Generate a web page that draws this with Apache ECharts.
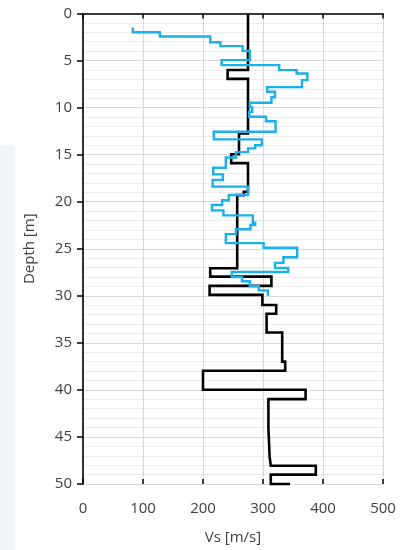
<!DOCTYPE html>
<html>
<head>
<meta charset="utf-8">
<script src="https://cdn.jsdelivr.net/npm/echarts@6/dist/echarts.min.js"></script>
<style>
html,body{margin:0;padding:0;background:#fff;}
#chart{width:409px;height:550px;}
</style>
</head>
<body>
<div id="chart"></div>
<script>
// Measured Vs profile (blue): layer boundaries (depth, m) and Vs per layer (m/s)
const measuredDepthBreaks = [1.5, 2.0, 2.45, 3.05, 3.47, 3.97, 4.96, 5.49, 6.02, 6.37,
  7.08, 7.82, 8.32, 8.9, 9.49, 9.98, 10.44, 10.97, 11.45, 12.57,
  13.38, 14.0, 14.33, 14.73, 15.3, 16.4, 17.1, 17.7, 18.4, 19.29,
  19.85, 20.35, 20.92, 21.45, 22.23, 22.47, 22.93, 23.45, 24.4, 24.9,
  25.9, 26.5, 27.05, 27.47, 28.0, 28.45, 28.97, 29.42, 30.0];
const measuredVs = [83, 128, 212, 229, 266, 278, 231, 327, 356, 374,
  365, 307, 320, 314, 278, 282, 277, 305, 321, 218,
  298, 287, 275, 255, 238, 217, 233, 216, 275, 243,
  232, 215, 234, 283, 287, 279, 255, 238, 301, 357,
  334, 320, 342, 248, 265, 278, 293, 308];

// Model Vs profile (black)
const profileDepthBreaks = [0, 6.0, 6.95, 12.75, 14.95, 15.9, 18.95, 19.3, 27.07, 27.96,
  28.95, 29.9, 30.97, 31.9, 33.9, 37.0, 37.97, 39.99, 40.98, 44.05,
  47.07, 48.06, 49.0, 50.0];
const profileVs = [275, 241, 275, 260, 247, 275, 268, 257, 212, 314,
  211, 299, 322, 306, 332, 337, 200, 371, 309, 311,
  313, 388, 313];
const profileEndVs = 345;

const xTicks = [0, 100, 200, 300, 400, 500];
const yTicks = [0, 5, 10, 15, 20, 25, 30, 35, 40, 45, 50];

function stepPoints(breaks, vs) {
  const pts = [];
  for (let i = 0; i < vs.length; i++) {
    pts.push([vs[i], breaks[i]]);
    pts.push([vs[i], breaks[i + 1]]);
  }
  return pts;
}

const measuredPts = stepPoints(measuredDepthBreaks, measuredVs);
const profilePts = stepPoints(profileDepthBreaks, profileVs);
profilePts.push([profileEndVs, profileDepthBreaks[profileDepthBreaks.length - 1]]);

const FONT = "'Open Sans', 'Noto Sans', sans-serif";
const chart = echarts.init(document.getElementById('chart'), null, {renderer: 'canvas'});
chart.setOption({
  animation: false,
  backgroundColor: '#ffffff',
  graphic: [{
    type: 'rect', left: 0, top: 145, z: -10,
    shape: {width: 15, height: 405},
    style: {fill: '#f2f5fa'}
  }],
  grid: {left: 83, right: 26, top: 13.5, bottom: 66, containLabel: false},
  xAxis: [{
    type: 'value', min: xTicks[0], max: xTicks[xTicks.length - 1], interval: 100,
    position: 'bottom',
    name: 'Vs [m/s]', nameLocation: 'middle', nameGap: 46,
    nameTextStyle: {fontFamily: FONT, fontSize: 15, color: '#404040'},
    axisLine: {show: true, lineStyle: {color: '#000', width: 1.6}},
    axisTick: {show: true, inside: false, length: 5, lineStyle: {color: '#000', width: 1.5}},
    axisLabel: {fontFamily: FONT, fontSize: 15, color: '#404040', margin: 17},
    splitLine: {show: true, lineStyle: {color: '#d9d9d9', width: 1}}
  }, {
    type: 'value', min: xTicks[0], max: xTicks[xTicks.length - 1], interval: 100,
    position: 'bottom',
    axisLine: {show: false},
    axisTick: {show: true, inside: true, length: 5, lineStyle: {color: '#000', width: 1.5}},
    axisLabel: {show: false},
    splitLine: {show: false}
  }],
  yAxis: {
    type: 'value', inverse: true, min: yTicks[0], max: yTicks[yTicks.length - 1], interval: 5,
    name: 'Depth [m]', nameLocation: 'middle', nameGap: 46, nameRotate: 90,
    nameTextStyle: {fontFamily: FONT, fontSize: 15, color: '#404040'},
    axisLine: {show: true, onZero: false, lineStyle: {color: '#000', width: 1.6}},
    axisTick: {show: true, inside: false, length: 6, lineStyle: {color: '#000', width: 1.5}},
    axisLabel: {fontFamily: FONT, fontSize: 15, color: '#404040', margin: 11},
    splitLine: {show: true, lineStyle: {color: '#d9d9d9', width: 1}},
    minorTick: {show: false, splitNumber: 5},
    minorSplitLine: {show: true, lineStyle: {color: '#ececec', width: 1}}
  },
  series: [{
    name: 'Profile', type: 'line', data: profilePts, xAxisIndex: 0,
    showSymbol: false, symbol: 'none', clip: false,
    lineStyle: {color: '#000000', width: 2.6, join: 'miter'}, z: 3
  }, {
    name: 'Measured', type: 'line', data: measuredPts, xAxisIndex: 0,
    showSymbol: false, symbol: 'none', clip: false,
    lineStyle: {color: '#1cb0ea', width: 2.4, join: 'miter'}, z: 4
  }]
});
</script>
</body>
</html>
